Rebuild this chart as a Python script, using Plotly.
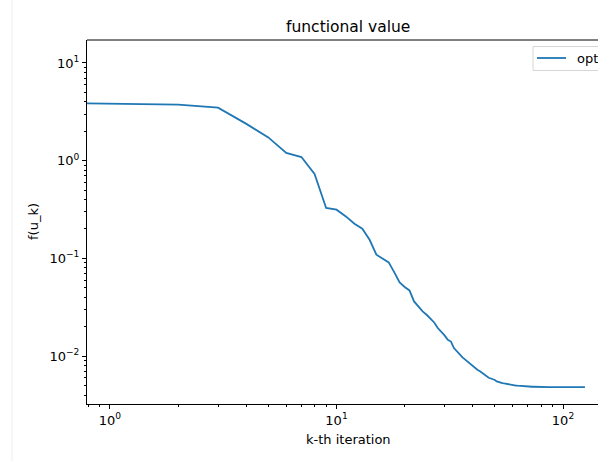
import plotly.graph_objects as go

# ---- data ----
iterations = list(range(0, 126))
f_values = [
    3.86, 3.84, 3.75, 3.49, 2.38, 1.73, 1.20, 1.09, 0.73, 0.328,
    0.315, 0.269, 0.226, 0.201, 0.155, 0.109, 0.099, 0.091, 0.072, 0.0568,
    0.051, 0.047, 0.0363, 0.0318, 0.0287, 0.0265, 0.0240, 0.0221, 0.0194, 0.0179,
    0.0163, 0.0147, 0.0141, 0.0121, 0.0112, 0.0103, 0.0097, 0.0092, 0.0087, 0.0083,
    0.0079, 0.0075, 0.0072, 0.0070, 0.0067, 0.0065, 0.0062, 0.0060, 0.0059, 0.0058,
    0.0057, 0.0055, 0.0054, 0.00535, 0.0053, 0.00525, 0.0052, 0.00515, 0.0051, 0.00507,
    0.00504, 0.00502, 0.00500, 0.00498, 0.00496, 0.00494, 0.00493, 0.00492, 0.00491, 0.00490,
    0.00489, 0.00488, 0.00487, 0.00486, 0.00486, 0.00485, 0.00485, 0.00484, 0.00484, 0.00483,
    0.00483, 0.00482, 0.00482, 0.00482, 0.00482, 0.00482, 0.00482, 0.00482, 0.00482, 0.00482,
    0.00482, 0.00482, 0.00482, 0.00482, 0.00482, 0.00482, 0.00482, 0.00482, 0.00482, 0.00482,
    0.00482, 0.00482, 0.00482, 0.00482, 0.00482, 0.00482, 0.00482, 0.00482, 0.00482, 0.00482,
    0.00482, 0.00482, 0.00482, 0.00482, 0.00482, 0.00482, 0.00482, 0.00482, 0.00482, 0.00482,
    0.00482, 0.00482, 0.00482, 0.00482, 0.00482, 0.00482,
]
series_name = "opt"
title_text = "functional value"
x_label = "k-th iteration"
y_label = "f(u_k)"
x_tick_exps = [0, 1, 2]
y_tick_exps = [-2, -1, 0, 1]

LINE_COLOR = "#1f77b4"

# ---- axis ranges (log10) ----
x_range = [-0.1015, 2.1545]
y_range = [-2.49, 1.235]

# matplotlib clips non-positive x on log axes to the axis edge
x_plot = [k if k > 0 else 10 ** x_range[0] for k in iterations]


def sup(e):
    s = str(e).replace("-", "\u2212")
    return "10<sup>" + s + "</sup>"


def minor_vals(rng):
    lo, hi = 10 ** rng[0], 10 ** rng[1]
    vals = []
    for e in range(int(rng[0]) - 2, int(rng[1]) + 2):
        for m in range(2, 10):
            v = m * 10 ** e
            if lo * 1.001 < v < hi * 0.999:
                vals.append(v)
    return vals


FONT = "DejaVu Sans"

fig = go.Figure()
fig.add_trace(go.Scatter(
    x=x_plot, y=f_values, mode="lines", name=series_name,
    line=dict(color=LINE_COLOR, width=1.8), showlegend=False,
))

axis_common = dict(
    type="log", showgrid=False, zeroline=False, showline=True, mirror=False,
    linecolor="black", linewidth=1, ticks="outside", ticklen=4, tickwidth=1,
    tickcolor="black", tickfont=dict(family=FONT, size=13, color="black"),
)

fig.update_xaxes(
    **axis_common, range=x_range,
    tickvals=[10 ** e for e in x_tick_exps],
    ticktext=[sup(e) for e in x_tick_exps],
    minor=dict(tickvals=minor_vals(x_range), ticks="outside", ticklen=2,
               tickcolor="black", tickwidth=0.8, showgrid=False),
)
fig.update_yaxes(
    **axis_common, range=y_range,
    tickvals=[10 ** e for e in y_tick_exps],
    ticktext=[sup(e) for e in y_tick_exps],
    minor=dict(tickvals=minor_vals(y_range), ticks="outside", ticklen=2,
               tickcolor="black", tickwidth=0.8, showgrid=False),
)

W, H = 598, 461
L, R, T, B = 87, 0, 40, 57
pw = W - L - R
ph = H - T - B
cx = (348 - L) / pw


def px(x):
    return (x - L) / pw


def py(y):
    return (H - B - y) / ph


fig.update_layout(
    width=W, height=H,
    margin=dict(l=L, r=R, t=T, b=B, autoexpand=False),
    paper_bgcolor="white", plot_bgcolor="white",
    font=dict(family=FONT, color="black"),
    showlegend=False,
    annotations=[
        dict(text=title_text, xref="paper", yref="paper",
             x=cx, y=py(27), xanchor="center", yanchor="middle",
             showarrow=False, font=dict(family=FONT, size=15.5, color="black")),
        dict(text=x_label, xref="paper", yref="paper",
             x=cx, y=py(439), xanchor="center", yanchor="middle",
             showarrow=False, font=dict(family=FONT, size=13, color="black")),
        dict(text=y_label, xref="paper", yref="paper",
             x=px(33), y=0.5, xanchor="center", yanchor="middle", textangle=-90,
             showarrow=False, font=dict(family=FONT, size=13, color="black")),
        # legend label
        dict(text=series_name, xref="paper", yref="paper",
             x=px(575), y=py(58), xanchor="left", yanchor="middle",
             showarrow=False, font=dict(family=FONT, size=13, color="black")),
    ],
    shapes=[
        # top spine
        dict(type="line", xref="paper", yref="paper", x0=0, x1=1, y0=1, y1=1,
             line=dict(color="black", width=1)),
        # faint page border at left
        dict(type="line", xref="paper", yref="paper",
             x0=px(12), x1=px(12), y0=-B / ph, y1=(ph + T) / ph,
             line=dict(color="#eeeeee", width=1)),
        # legend frame
        dict(type="rect", xref="paper", yref="paper",
             x0=px(533), x1=px(612), y0=py(70.5), y1=py(46.5),
             line=dict(color="#d6d6d6", width=1), fillcolor="white"),
        # legend line sample
        dict(type="line", xref="paper", yref="paper",
             x0=px(537), x1=px(566), y0=py(58), y1=py(58),
             line=dict(color=LINE_COLOR, width=1.8)),
    ],
)

fig.write_html("out.html", config={"displayModeBar": False})
